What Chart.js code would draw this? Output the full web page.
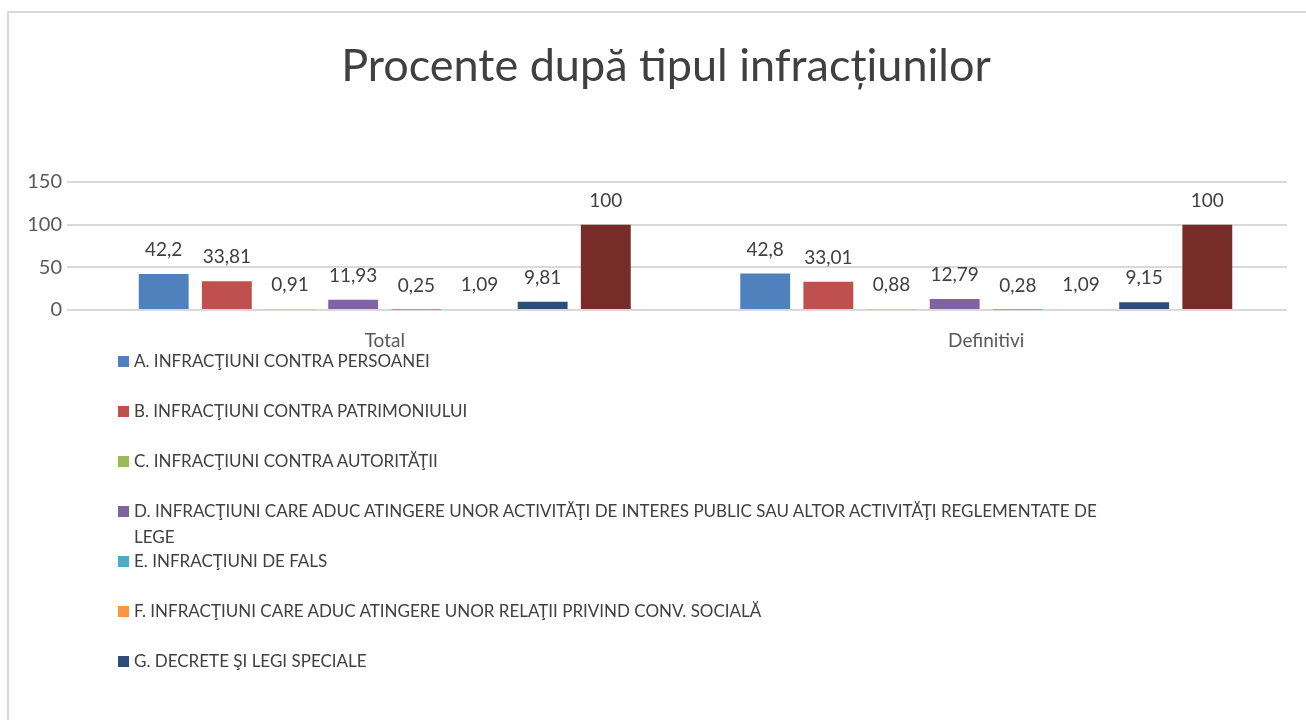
<!DOCTYPE html>
<html>
<head>
<meta charset="utf-8">
<script src="https://cdn.jsdelivr.net/npm/chart.js@4.4.1/dist/chart.umd.min.js"></script>
<style>
  html, body { margin: 0; padding: 0; background: #fff; }
  #wrap { position: relative; width: 1306px; height: 720px; overflow: hidden; }
  #frame { position: absolute; left: 7px; top: 11px; width: 1320px; height: 740px;
           border-top: 2px solid #d9d9d9; border-left: 2px solid #d9d9d9; }
  #chart { position: absolute; left: 0; top: 0; }
  .leg { position: absolute; left: 118px; width: 1000px; font-family: Lato, sans-serif;
         font-size: 17px; line-height: 26px; color: #404040; padding-left: 16px; }
  .leg i { position: absolute; left: 0; top: 8px; width: 11px; height: 11px; }
</style>
</head>
<body>
<div id="wrap">
  <div id="frame"></div>
  <canvas id="chart" width="1306" height="720"></canvas>
  <div id="legend"></div>
</div>
<script>
// ---------- DATA ----------
const chartTitle = "Procente după tipul infracțiunilor";
const categories = ["Total", "Definitivi"];
const seriesNames = [
  "A. INFRACŢIUNI CONTRA PERSOANEI",
  "B. INFRACŢIUNI CONTRA PATRIMONIULUI",
  "C. INFRACŢIUNI CONTRA AUTORITĂŢII",
  "D. INFRACŢIUNI CARE ADUC ATINGERE UNOR ACTIVITĂŢI DE INTERES PUBLIC SAU ALTOR ACTIVITĂŢI REGLEMENTATE DE LEGE",
  "E. INFRACŢIUNI DE FALS",
  "F. INFRACŢIUNI CARE ADUC ATINGERE UNOR RELAŢII PRIVIND CONV. SOCIALĂ",
  "G. DECRETE ŞI LEGI SPECIALE",
  "TOTAL"
];
const seriesA = [42.2, 42.8];
const seriesB = [33.81, 33.01];
const seriesC = [0.91, 0.88];
const seriesD = [11.93, 12.79];
const seriesE = [0.25, 0.28];
const seriesF = [1.09, 1.09];
const seriesG = [9.81, 9.15];
const seriesTotal = [100, 100];
const yTicks = [0, 50, 100, 150];

const colors = ["#4F81BD", "#C0504D", "#9BBB59", "#8064A2", "#4BACC6", "#F79646", "#2C4D75", "#772C2A"];
const allSeries = [seriesA, seriesB, seriesC, seriesD, seriesE, seriesF, seriesG, seriesTotal];

// ---------- VALUE LABELS + TITLE ----------
const valueLabels = {
  id: "valueLabels",
  afterDatasetsDraw(chart) {
    const ctx = chart.ctx;
    ctx.save();
    ctx.font = "19px Lato, sans-serif";
    ctx.fillStyle = "#404040";
    ctx.textAlign = "center";
    ctx.textBaseline = "middle";
    chart.data.datasets.forEach((ds, i) => {
      chart.getDatasetMeta(i).data.forEach((bar, j) => {
        ctx.fillText(String(ds.data[j]).replace(".", ","), bar.x, bar.y - 24);
      });
    });
    // title, centred a bit right of the canvas middle like the original
    ctx.font = "45px Lato, sans-serif";
    ctx.fillText(chartTitle, 666, 66);
    ctx.restore();
  }
};

const chart = new Chart(document.getElementById("chart"), {
  type: "bar",
  data: {
    labels: categories,
    datasets: allSeries.map((d, i) => ({
      label: seriesNames[i],
      data: d,
      backgroundColor: colors[i],
      borderWidth: 0,
      categoryPercentage: 0.84,
      barPercentage: 0.79
    }))
  },
  options: {
    responsive: false,
    animation: false,
    layout: { padding: { left: 0, right: 19, top: 182, bottom: 360 } },
    plugins: {
      legend: { display: false },
      tooltip: { enabled: false },
      title: { display: false }
    },
    scales: {
      x: {
        grid: { display: false },
        border: { display: false },
        ticks: { color: "#595959", font: { family: "Lato, sans-serif", size: 19 }, padding: 11 },
        afterFit: s => { s.height = 50; }
      },
      y: {
        min: 0,
        max: 150,
        afterBuildTicks: s => { s.ticks = yTicks.map(v => ({ value: v })); },
        grid: { color: "#d9d9d9", lineWidth: 2, tickLength: 17 },
        border: { display: false },
        ticks: { color: "#595959", font: { family: "Lato, sans-serif", size: 20 }, padding: 5 },
        afterFit: s => { s.width = 84; }
      }
    }
  },
  plugins: [valueLabels]
});

// ---------- LEGEND (HTML, first 7 series) ----------
const legendEl = document.getElementById("legend");
chart.data.datasets.slice(0, 7).forEach((ds, i) => {
  const item = document.createElement("div");
  item.className = "leg";
  item.style.top = (361 + i * 50 - 13) + "px";
  item.innerHTML = `<i style="background:${ds.backgroundColor}"></i>${ds.label}`;
  legendEl.appendChild(item);
});
</script>
</body>
</html>
